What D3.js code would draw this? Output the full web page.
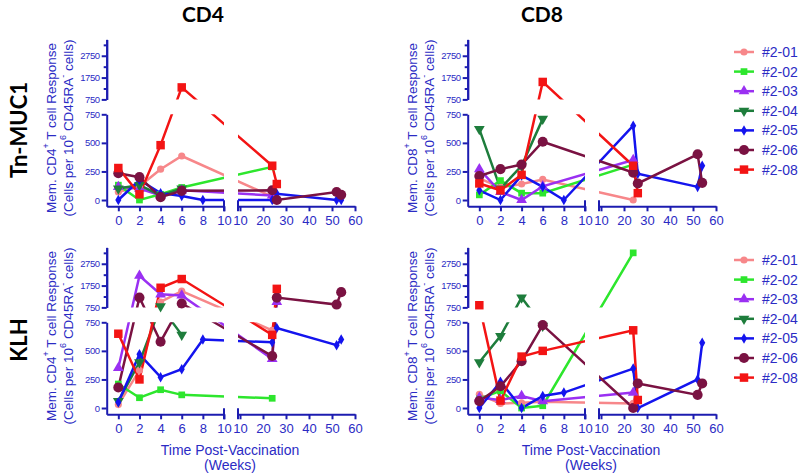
<!DOCTYPE html>
<html>
<head>
<meta charset="utf-8">
<title>Memory T cell response after vaccination</title>
<script src="https://cdn.jsdelivr.net/npm/d3@7"></script>
<style>
  body { margin: 0; background: #fff; }
  text { font-family: "Liberation Sans", Arial, sans-serif; }
  .axis path, .axis line { stroke: #1c1cb0; stroke-width: 2; }
  .axis text { fill: #2b2bc4; }
</style>
</head>
<body>
<script>
var subjects = ["#2-01", "#2-02", "#2-03", "#2-04", "#2-05", "#2-06", "#2-08"]
var colors = ["#f7878a", "#2de62d", "#9a30f2", "#1e7d3c", "#1414ee", "#7a1242", "#f31414"]

var xTicksLeft = [0, 2, 4, 6, 8, 10]
var xTicksRight = [10, 20, 30, 40, 50, 60]
var yTicksLow = [0, 250, 500, 750]
var yTicksHigh = [750, 1750, 2750]
var yMinorHigh = [1250, 2250, 3250]

// [week, cells per 10^6], one list per subject in the order above
var cd4Muc1 = [
    [[0, 70], [2, 120], [4, 270], [6, 385], [24, 30]],
    [[0, 130], [2, 0], [4, 50], [6, 110], [24, 290]],
    [[0, 115], [2, 100], [4, 40], [6, 85], [24, 40]],
    [[0, 100], [2, 130], [4, 40], [6, 100]],
    [[0, 0], [2, 175], [4, 60], [6, 35], [8, 0], [24, 0], [26, 55], [52, 0], [54, 0]],
    [[0, 235], [2, 200], [4, 25], [6, 80], [24, 85], [26, 0], [52, 70], [54, 45]],
    [[0, 280], [2, 50], [4, 480], [6, 1300], [24, 300], [26, 140]]
]
var cd8Muc1 = [
    [[0, 190], [2, 110], [4, 140], [6, 180], [24, 0]],
    [[0, 45], [2, 170], [4, 60], [6, 60], [24, 310]],
    [[0, 270], [2, 70], [4, 0], [6, 120], [24, 350]],
    [[0, 620], [2, 100], [4, 300], [6, 710]],
    [[0, 85], [2, 0], [4, 215], [6, 115], [8, 0], [24, 650], [26, 230], [52, 115], [54, 300]],
    [[0, 210], [2, 270], [4, 310], [6, 510], [24, 240], [26, 145], [52, 400], [54, 150]],
    [[0, 145], [2, 85], [4, 220], [6, 1550], [24, 300], [26, 60]]
]
var cd4Klh = [
    [[0, 30], [2, 330], [4, 1000], [6, 1500], [24, 680]],
    [[0, 210], [2, 90], [4, 160], [6, 115], [24, 85]],
    [[0, 350], [2, 2200], [4, 1350], [6, 1300], [24, 430], [26, 1000]],
    [[0, 60], [2, 400], [4, 800], [6, 640]],
    [[0, 50], [2, 470], [4, 270], [6, 340], [8, 600], [24, 575], [26, 700], [52, 550], [54, 600]],
    [[0, 180], [2, 1200], [4, 580], [6, 930], [24, 455], [26, 1200], [52, 880], [54, 1450]],
    [[0, 650], [2, 250], [4, 1650], [6, 2050], [24, 640], [26, 1600]]
]
var cd8Klh = [
    [[0, 120], [2, 40], [4, 45], [6, 55], [24, 40]],
    [[0, 80], [2, 150], [4, 0], [6, 20], [24, 3250]],
    [[0, 90], [2, 70], [4, 105], [6, 60], [24, 135]],
    [[0, 400], [2, 630], [4, 1200], [6, 720]],
    [[0, 0], [2, 230], [4, 0], [6, 105], [8, 135], [24, 345], [26, 0], [52, 250], [54, 570]],
    [[0, 60], [2, 190], [4, 410], [6, 725], [24, 0], [26, 215], [52, 115], [54, 215]],
    [[0, 850], [2, 65], [4, 450], [6, 500], [24, 680], [26, 70]]
]

var shapes = [d3.symbolCircle, d3.symbolSquare, d3.symbolTriangle, d3.symbolTriangle,
    d3.symbolDiamond, d3.symbolCircle, d3.symbolSquare]
var sizes = [40, 45, 50, 50, 32, 80, 72]
var turns = [0, 0, 0, 180, 0, 0, 0]

var width = 800, height = 474
var svg = d3.select('body').append('svg')
    .attr('width', width)
    .attr('height', height)

var blue = "#2b2bc4"
var plain = d3.format('d')

function drawPanel(data, dx, dy, id, cellType) {
    var xL = d3.scaleLinear().domain([-1.1, 10]).range([106.7 + dx, 224 + dx])
    var xR = d3.scaleLinear().domain([9.13, 60]).range([238 + dx, 355 + dx])
    var yLo = d3.scaleLinear().domain([-55, 750]).range([206.3 + dy, 114.3 + dy])
    var yHi = d3.scaleLinear().domain([750, 3500]).range([99.4 + dy, 39.4 + dy])

    function px(x) { return x <= 10 ? xL(x) : xR(x) }
    function py(y) { return y <= 750 ? yLo(y) : yHi(y) }

    // clip the lines to the four pieces of the broken axes
    var clip = svg.append('clipPath').attr('id', 'clip' + id)
    ;[xL, xR].forEach(function (xs) {
        [yLo, yHi].forEach(function (ys) {
            clip.append('rect')
                .attr('x', xs.range()[0])
                .attr('y', ys.range()[1])
                .attr('width', xs.range()[1] - xs.range()[0])
                .attr('height', ys.range()[0] - ys.range()[1])
        })
    })

    // axes
    var ax = svg.append('g').attr('class', 'axis')
    ax.append('g').attr('transform', 'translate(' + xL.range()[0] + ',0)')
        .call(d3.axisLeft(yLo).tickValues(yTicksLow).tickFormat(plain)
            .tickSize(5).tickSizeOuter(0).tickPadding(2))
    ax.append('g').attr('transform', 'translate(' + xL.range()[0] + ',0)')
        .call(d3.axisLeft(yHi).tickValues(yTicksHigh).tickFormat(plain)
            .tickSize(5).tickSizeOuter(0).tickPadding(2))
    ax.append('g').attr('transform', 'translate(' + xL.range()[0] + ',0)')
        .call(d3.axisLeft(yHi).tickValues(yMinorHigh).tickSize(3).tickSizeOuter(0).tickFormat(''))
    ax.selectAll('text').attr('font-size', '9.5px').attr('letter-spacing', '-0.4px')

    var xg = svg.append('g').attr('class', 'axis')
    var xAxisY = yLo.range()[0]
    xg.append('g').attr('transform', 'translate(0,' + xAxisY + ')')
        .call(d3.axisBottom(xL).tickValues(xTicksLeft).tickSize(5).tickSizeOuter(0).tickPadding(4))
    xg.append('g').attr('transform', 'translate(0,' + xAxisY + ')')
        .call(d3.axisBottom(xR).tickValues(xTicksRight).tickSize(5).tickSizeOuter(0).tickPadding(4))
    xg.selectAll('text').attr('font-size', '13px')
    // segment ends
    ;[xL.range()[1], xR.range()[0]].forEach(function (x) {
        xg.append('line')
            .attr('x1', x).attr('x2', x)
            .attr('y1', xAxisY - 6).attr('y2', xAxisY + 5)
    })

    // series
    var line = d3.line().x(function (d) { return px(d[0]) }).y(function (d) { return py(d[1]) })
    data.forEach(function (series, i) {
        svg.append('path')
            .attr('d', line(series))
            .attr('fill', 'none')
            .attr('stroke', colors[i])
            .attr('stroke-width', 2.5)
            .attr('clip-path', 'url(#clip' + id + ')')
    })
    data.forEach(function (series, i) {
        svg.append('g').selectAll('path').data(series).enter().append('path')
            .attr('d', d3.symbol().type(shapes[i]).size(sizes[i]))
            .attr('transform', function (d) {
                return 'translate(' + px(d[0]) + ',' + py(d[1]) + ') rotate(' + turns[i] + ')'
            })
            .attr('fill', colors[i])
    })

    // y axis title
    var cy = 128 + dy
    var t1 = svg.append('text')
        .attr('transform', 'translate(' + (51 + dx) + ',' + cy + ') rotate(-90)')
        .attr('text-anchor', 'middle').attr('dominant-baseline', 'central')
        .attr('font-size', '13.5px').attr('fill', blue)
    t1.append('tspan').text('Mem. ' + cellType)
    t1.append('tspan').attr('dy', -5).attr('font-size', '9px').text('+')
    t1.append('tspan').attr('dy', 5).text(' T cell Response')
    var t2 = svg.append('text')
        .attr('transform', 'translate(' + (67.5 + dx) + ',' + cy + ') rotate(-90)')
        .attr('text-anchor', 'middle').attr('dominant-baseline', 'central')
        .attr('font-size', '13.5px').attr('fill', blue)
    t2.append('tspan').text('(Cells per 10')
    t2.append('tspan').attr('dy', -5).attr('font-size', '9px').text('6')
    t2.append('tspan').attr('dy', 5).text(' CD45RA')
    t2.append('tspan').attr('dy', -5).attr('font-size', '9px').text('-')
    t2.append('tspan').attr('dy', 5).text(' cells)')
}

drawPanel(cd4Muc1, 0, 0, 'a', 'CD4')
drawPanel(cd8Muc1, 361, 0, 'b', 'CD8')
drawPanel(cd4Klh, 0, 208, 'c', 'CD4')
drawPanel(cd8Klh, 361, 208, 'd', 'CD8')

// legends
function drawLegend(y0) {
    subjects.forEach(function (name, i) {
        var y = y0 + i * 19.6
        var g = svg.append('g')
        g.append('line')
            .attr('x1', 734).attr('x2', 754).attr('y1', y).attr('y2', y)
            .attr('stroke', colors[i]).attr('stroke-width', 2.5)
        g.append('path')
            .attr('d', d3.symbol().type(shapes[i]).size(sizes[i]))
            .attr('transform', 'translate(744,' + y + ') rotate(' + turns[i] + ')')
            .attr('fill', colors[i])
        g.append('text')
            .attr('x', 762).attr('y', y)
            .attr('dominant-baseline', 'central')
            .attr('font-size', '14px').attr('fill', blue)
            .text(name)
    })
}
drawLegend(52)
drawLegend(260)

// titles
var bold = '"Lato", "Open Sans", sans-serif'
svg.append('text').attr('x', 203).attr('y', 22).attr('text-anchor', 'middle')
    .attr('font-size', '21px').attr('font-weight', 'bold').style('font-family', bold).text('CD4')
svg.append('text').attr('x', 542).attr('y', 22).attr('text-anchor', 'middle')
    .attr('font-size', '21px').attr('font-weight', 'bold').style('font-family', bold).text('CD8')
svg.append('text').attr('transform', 'translate(18,130) rotate(-90)')
    .attr('text-anchor', 'middle').attr('dominant-baseline', 'central')
    .attr('font-size', '22px').attr('font-weight', 'bold').style('font-family', bold).text('Tn-MUC1')
svg.append('text').attr('transform', 'translate(18,340) rotate(-90)')
    .attr('text-anchor', 'middle').attr('dominant-baseline', 'central')
    .attr('font-size', '22px').attr('font-weight', 'bold').style('font-family', bold).text('KLH')

// x axis titles
;[230, 591].forEach(function (cx) {
    svg.append('text').attr('x', cx).attr('y', 455).attr('text-anchor', 'middle')
        .attr('font-size', '14px').attr('fill', blue).text('Time Post-Vaccination')
    svg.append('text').attr('x', cx).attr('y', 470).attr('text-anchor', 'middle')
        .attr('font-size', '14px').attr('fill', blue).text('(Weeks)')
})
</script>
</body>
</html>
